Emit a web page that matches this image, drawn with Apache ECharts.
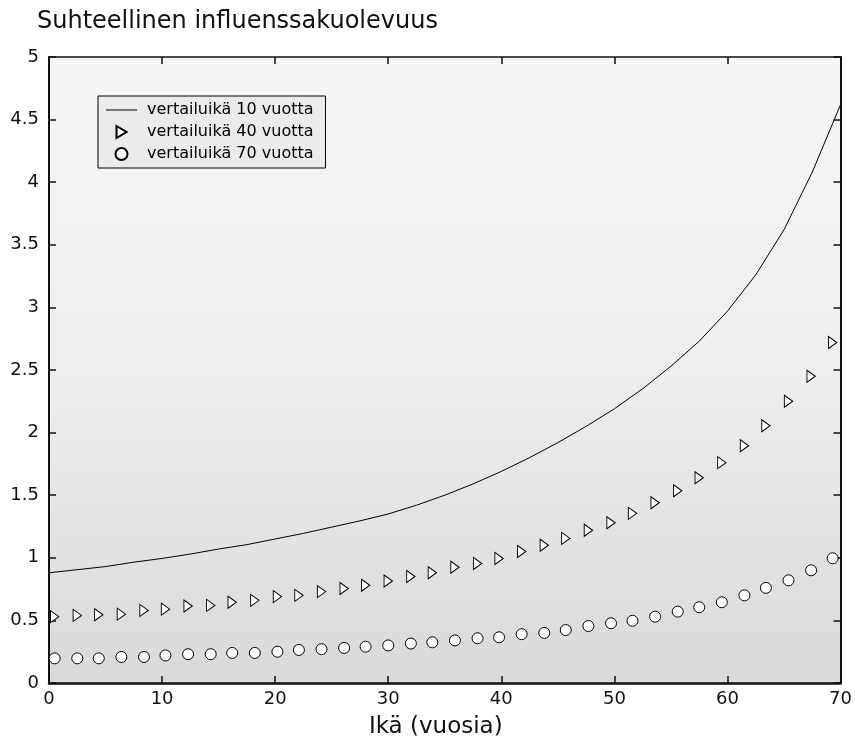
<!DOCTYPE html>
<html>
<head>
<meta charset="utf-8">
<script src="https://cdn.jsdelivr.net/npm/echarts@6/dist/echarts.min.js"></script>
</head>
<body style="margin:0;background:#fff">
<div id="main" style="width:855px;height:744px;"></div>
<script>
// vertailuikä 10 vuotta (viiva)
var lineAges = [0, 2.5, 5, 7.5, 10, 12.5, 15, 17.5, 20, 22.5, 25, 27.5, 30, 32.5, 35, 37.5,
  40, 42.5, 45, 47.5, 50, 52.5, 55, 57.5, 60, 62.5, 65, 67.5, 70]
var ref10 = [0.88, 0.905, 0.93, 0.965, 0.995, 1.03, 1.07, 1.105, 1.15, 1.195, 1.245, 1.295,
  1.35, 1.42, 1.5, 1.59, 1.69, 1.8, 1.92, 2.05, 2.19, 2.35, 2.53, 2.73, 2.97, 3.26, 3.62, 4.08, 4.62]

// merkkien iät
var markerAges = [0.5, 2.5, 4.4, 6.4, 8.4, 10.3, 12.3, 14.3, 16.2, 18.2, 20.2, 22.1, 24.1, 26.1,
  28.0, 30.0, 32.0, 33.9, 35.9, 37.9, 39.8, 41.8, 43.8, 45.7, 47.7, 49.7, 51.6, 53.6, 55.6,
  57.5, 59.5, 61.5, 63.4, 65.4, 67.4, 69.3]
var ref40 = [0.53, 0.54, 0.545, 0.55, 0.58, 0.59, 0.615, 0.62, 0.645, 0.66, 0.69, 0.70, 0.73,
  0.755, 0.78, 0.815, 0.85, 0.88, 0.925, 0.955, 0.995, 1.05, 1.10, 1.155, 1.22, 1.28, 1.355,
  1.44, 1.535, 1.64, 1.76, 1.895, 2.055, 2.25, 2.45, 2.72]
var ref70 = [0.197, 0.197, 0.197, 0.208, 0.208, 0.22, 0.23, 0.23, 0.24, 0.24, 0.25, 0.264, 0.27,
  0.28, 0.29, 0.30, 0.315, 0.325, 0.34, 0.357, 0.365, 0.39, 0.40, 0.423, 0.455, 0.477, 0.497,
  0.53, 0.57, 0.605, 0.645, 0.70, 0.76, 0.82, 0.90, 0.996]

var names = ['vertailuikä 10 vuotta', 'vertailuikä 40 vuotta', 'vertailuikä 70 vuotta']

function pairs(xs, ys) {
  return xs.map(function (x, i) { return [x, ys[i]] })
}

var font = 'DejaVu Sans'
var tri = 'path://M0,0 L10,6 L0,12 Z'

// kaikille akseleille sama viiva + sisäänpäin osoittavat tikit
function frame(width) {
  return {
    splitLine: { show: false },
    axisLine: { show: true, onZero: false, lineStyle: { color: '#111', width: width } },
    axisTick: { show: true, inside: true, length: 7, lineStyle: { color: '#111', width: 1.5 } }
  }
}

var myChart = echarts.init(document.getElementById('main'))
myChart.setOption({
  animation: false,
  textStyle: { fontFamily: font },
  title: {
    text: 'Suhteellinen influenssakuolevuus',
    left: 32,
    top: 5,
    textStyle: { fontFamily: font, fontSize: 24, fontWeight: 'normal', color: '#111' }
  },
  legend: {
    orient: 'vertical',
    left: 98,
    top: 96,
    padding: [6, 12, 6, 8],
    itemGap: 6,
    itemWidth: 31,
    itemHeight: 12,
    backgroundColor: '#ebebeb',
    borderColor: '#000',
    borderWidth: 1,
    borderRadius: 0,
    textStyle: { fontFamily: font, fontSize: 16, color: '#000', padding: [0, 0, 0, 5] },
    data: [
      { name: names[0], icon: 'path://M0,0 L31,0 L31,1 L0,1 Z', itemStyle: { color: '#000' } },
      { name: names[1] },
      { name: names[2] }
    ]
  },
  grid: {
    left: 49,
    right: 13,
    top: 57,
    bottom: 61,
    show: true,
    borderWidth: 0,
    backgroundColor: {
      type: 'linear', x: 0, y: 0, x2: 0, y2: 1,
      colorStops: [
        { offset: 0, color: '#f6f6f6' },
        { offset: 0.5, color: '#eeeeee' },
        { offset: 1, color: '#d9d9d9' }
      ]
    }
  },
  xAxis: [
    Object.assign({
      type: 'value',
      min: 0,
      max: 70,
      interval: 10,
      name: 'Ikä (vuosia)',
      nameLocation: 'middle',
      nameGap: 33,
      nameTextStyle: { fontFamily: font, fontSize: 23, color: '#111', padding: [0, 18, 0, 0] },
      axisLabel: { fontFamily: font, fontSize: 18, color: '#111', margin: 7 }
    }, frame(2.5)),
    Object.assign({
      type: 'value',
      position: 'top',
      min: 0,
      max: 70,
      interval: 10,
      axisLabel: { show: false }
    }, frame(1.5))
  ],
  yAxis: [
    Object.assign({
      type: 'value',
      min: 0,
      max: 5,
      interval: 0.5,
      axisLabel: { fontFamily: font, fontSize: 18, color: '#111', margin: 10 }
    }, frame(2)),
    Object.assign({
      type: 'value',
      position: 'right',
      min: 0,
      max: 5,
      interval: 0.5,
      axisLabel: { show: false }
    }, frame(2))
  ],
  series: [
    {
      name: names[0],
      type: 'line',
      symbol: 'none',
      lineStyle: { color: '#000', width: 1 },
      itemStyle: { color: '#000' },
      data: pairs(lineAges, ref10)
    },
    {
      name: names[1],
      type: 'scatter',
      symbol: tri,
      symbolSize: [10, 12],
      symbolKeepAspect: true,
      itemStyle: { color: '#fff', borderColor: '#000', borderWidth: 1, opacity: 1 },
      data: pairs(markerAges, ref40)
    },
    {
      name: names[2],
      type: 'scatter',
      symbol: 'circle',
      symbolSize: 11,
      symbolKeepAspect: true,
      itemStyle: { color: '#fff', borderColor: '#000', borderWidth: 1, opacity: 1 },
      data: pairs(markerAges, ref70)
    }
  ]
})
</script>
</body>
</html>
